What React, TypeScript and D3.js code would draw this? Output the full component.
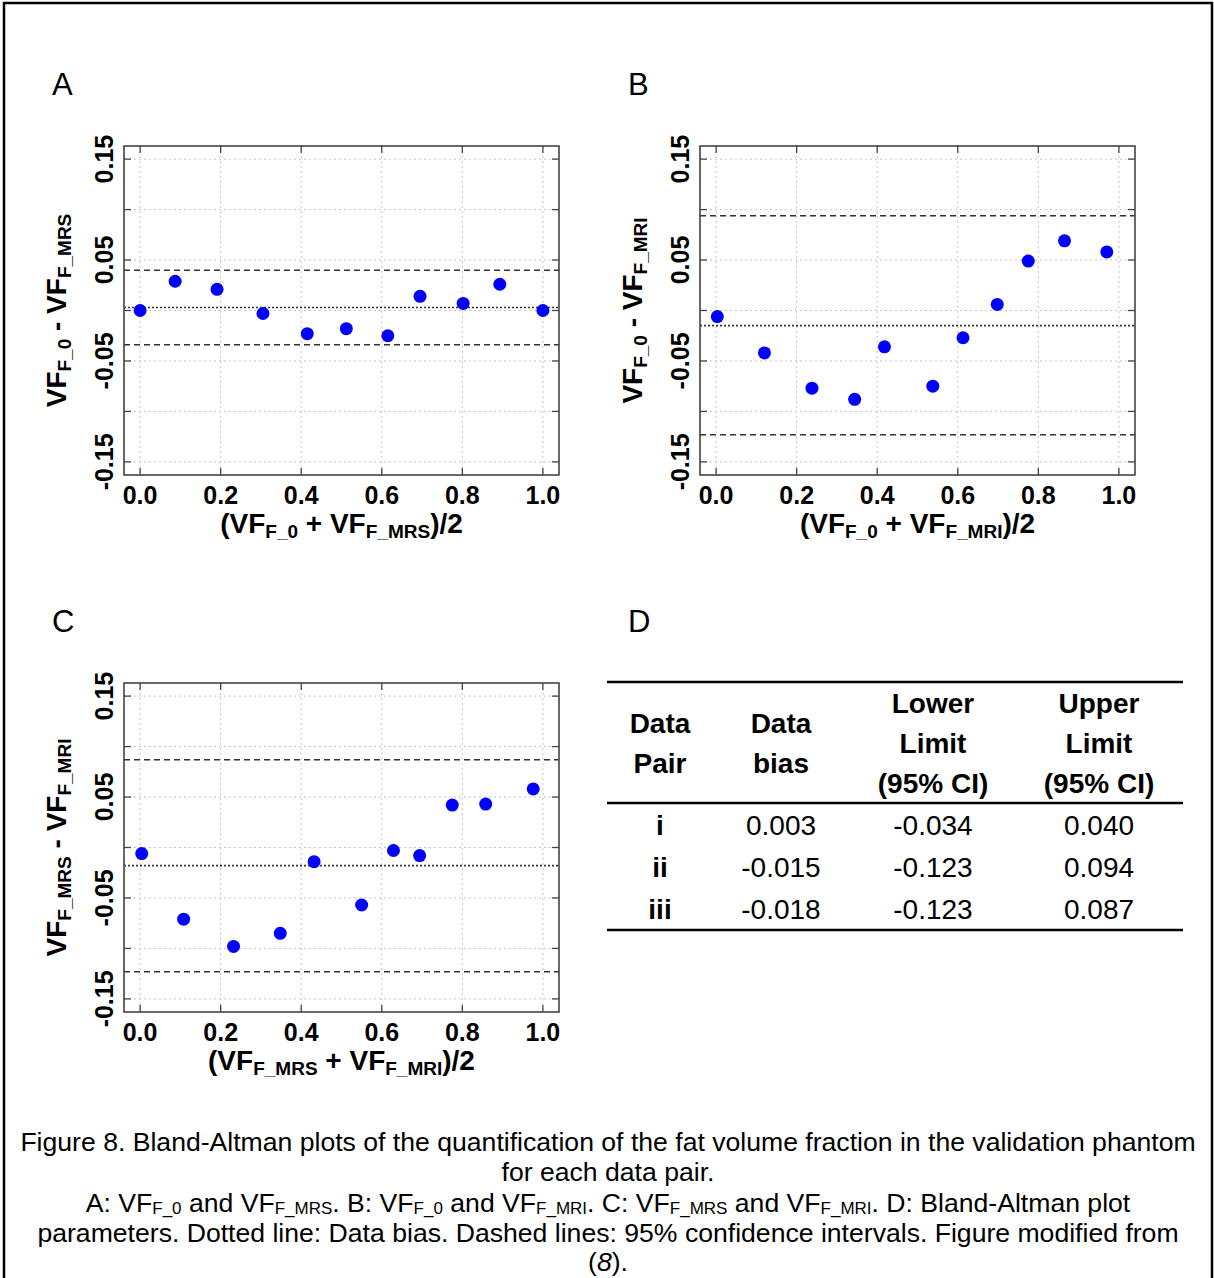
import React from "react";
import * as d3 from "d3";

// ---------- data ----------
const xA = [0.0, 0.087, 0.191, 0.305, 0.415, 0.512, 0.615, 0.695, 0.802, 0.893, 1.0];
const yA = [0.0, 0.029, 0.021, -0.003, -0.023, -0.018, -0.025, 0.014, 0.007, 0.026, 0.0];

const xB = [0.003, 0.12, 0.238, 0.344, 0.418, 0.538, 0.613, 0.698, 0.775, 0.865, 0.97];
const yB = [-0.006, -0.042, -0.077, -0.088, -0.036, -0.075, -0.027, 0.006, 0.049, 0.069, 0.058];

const xC = [0.004, 0.108, 0.232, 0.348, 0.432, 0.55, 0.629, 0.694, 0.775, 0.858, 0.976];
const yC = [-0.006, -0.071, -0.098, -0.085, -0.014, -0.057, -0.003, -0.008, 0.042, 0.043, 0.058];

const pairLabels = ["i", "ii", "iii"];
const biasValues = [0.003, -0.015, -0.018];
const lowerValues = [-0.034, -0.123, -0.123];
const upperValues = [0.04, 0.094, 0.087];

const yTickValues = [-0.15, -0.1, -0.05, 0, 0.05, 0.1, 0.15];
const yLabelValues = [-0.15, -0.05, 0.05, 0.15];
const xTickValues = [0, 0.2, 0.4, 0.6, 0.8, 1.0];

const headerLines = [
  ["Data", "Pair"],
  ["Data", "bias"],
  ["Lower", "Limit", "(95% CI)"],
  ["Upper", "Limit", "(95% CI)"],
];

// ---------- style ----------
const FONT = '"Liberation Sans", Arial, Helvetica, sans-serif';

type Part = [string, boolean];

function SubText(props: {
  x: number;
  y: number;
  parts: Part[];
  size: number;
  subSize: number;
  subDy: number;
  rotate?: boolean;
  weight?: string;
  anchor?: string;
}) {
  const { x, y, parts, size, subSize, subDy, rotate, weight, anchor } = props;
  let inSub = false;
  const spans = parts.map((p, i) => {
    const [t, sub] = p;
    let dy = 0;
    if (sub && !inSub) dy = subDy;
    if (!sub && inSub) dy = -subDy;
    inSub = sub;
    return (
      <tspan key={i} fontSize={sub ? subSize : size} dy={dy}>
        {t}
      </tspan>
    );
  });
  return (
    <text
      transform={rotate ? `translate(${x},${y}) rotate(-90)` : `translate(${x},${y})`}
      textAnchor={anchor || "middle"}
      fontFamily={FONT}
      fontWeight={weight || "bold"}
      fontSize={size}
      fill="#000"
      style={{ whiteSpace: "pre" }}
    >
      {spans}
    </text>
  );
}

type Box = { l: number; r: number; t: number; b: number };

function Plot(props: {
  box: Box;
  xs: number[];
  ys: number[];
  idx: number;
  letter: string;
  xTitle: Part[];
  yTitle: Part[];
}) {
  const { box, xs, ys, idx, letter, xTitle, yTitle } = props;
  const x = d3.scaleLinear().domain([-0.04, 1.04]).range([box.l, box.r]);
  const y = d3.scaleLinear().domain([-0.163, 0.163]).range([box.b, box.t]);
  const tl = 7;
  return (
    <g>
      <text x={box.l - 72} y={box.t - 51} fontFamily={FONT} fontSize={31} fill="#000">
        {letter}
      </text>
      {/* grid */}
      {yTickValues.map((v, i) => (
        <line key={"gy" + i} x1={box.l} x2={box.r} y1={y(v)} y2={y(v)} stroke="#c4c4c4" strokeWidth={1} strokeDasharray="2,3" />
      ))}
      {xTickValues.map((v, i) => (
        <line key={"gx" + i} x1={x(v)} x2={x(v)} y1={box.t} y2={box.b} stroke="#c4c4c4" strokeWidth={1} strokeDasharray="2,3" />
      ))}
      {/* ticks */}
      {yTickValues.map((v, i) => (
        <g key={"ty" + i}>
          <line x1={box.l} x2={box.l + tl} y1={y(v)} y2={y(v)} stroke="#444" strokeWidth={1.3} />
          <line x1={box.r} x2={box.r - tl} y1={y(v)} y2={y(v)} stroke="#444" strokeWidth={1.3} />
        </g>
      ))}
      {xTickValues.map((v, i) => (
        <g key={"tx" + i}>
          <line x1={x(v)} x2={x(v)} y1={box.b} y2={box.b - tl} stroke="#444" strokeWidth={1.3} />
          <line x1={x(v)} x2={x(v)} y1={box.t} y2={box.t + tl} stroke="#444" strokeWidth={1.3} />
        </g>
      ))}
      {/* bias & limits */}
      <line x1={box.l} x2={box.r} y1={y(upperValues[idx])} y2={y(upperValues[idx])} stroke="#333" strokeWidth={1.5} strokeDasharray="6,4" />
      <line x1={box.l} x2={box.r} y1={y(lowerValues[idx])} y2={y(lowerValues[idx])} stroke="#333" strokeWidth={1.5} strokeDasharray="6,4" />
      <line x1={box.l} x2={box.r} y1={y(biasValues[idx])} y2={y(biasValues[idx])} stroke="#333" strokeWidth={1.6} strokeDasharray="2,2" />
      {/* border */}
      <rect x={box.l} y={box.t} width={box.r - box.l} height={box.b - box.t} fill="none" stroke="#444" strokeWidth={1.6} />
      {/* points */}
      {xs.map((v, i) => (
        <circle key={"p" + i} cx={x(v)} cy={y(ys[i])} r={6.5} fill="#0000ff" />
      ))}
      {/* tick labels */}
      {yLabelValues.map((v, i) => (
        <text
          key={"yl" + i}
          transform={`translate(${box.l - 11},${y(v)}) rotate(-90)`}
          textAnchor="middle"
          fontFamily={FONT}
          fontWeight="bold"
          fontSize={25}
        >
          {v.toFixed(2)}
        </text>
      ))}
      {xTickValues.map((v, i) => (
        <text key={"xl" + i} x={x(v)} y={box.b + 29} textAnchor="middle" fontFamily={FONT} fontWeight="bold" fontSize={25}>
          {v.toFixed(1)}
        </text>
      ))}
      <SubText x={(box.l + box.r) / 2} y={box.b + 58} parts={xTitle} size={28} subSize={19} subDy={5} />
      <SubText x={box.l - 58} y={(box.t + box.b) / 2} parts={yTitle} size={28} subSize={19} subDy={5} rotate />
    </g>
  );
}

function Table() {
  const cols = [660, 781, 933, 1099];
  const x0 = 607;
  const x1 = 1183;
  const top = 682;
  const mid = 803;
  const bot = 930;
  const rowBase = [835, 877, 919];
  return (
    <g fontFamily={FONT} fontSize={28}>
      <text x={x0 + 21} y={632} fontSize={31} fill="#000">D</text>
      <line x1={x0} x2={x1} y1={top} y2={top} stroke="#000" strokeWidth={2.5} />
      <line x1={x0} x2={x1} y1={mid} y2={mid} stroke="#000" strokeWidth={2.5} />
      <line x1={x0} x2={x1} y1={bot} y2={bot} stroke="#000" strokeWidth={2.5} />
      {headerLines.map((lines, ci) => {
        const n = lines.length;
        const start = n === 3 ? 713 : 733;
        return lines.map((t, li) => (
          <text key={ci + "-" + li} x={cols[ci]} y={start + li * 40} textAnchor="middle" fontWeight="bold">
            {t}
          </text>
        ));
      })}
      {pairLabels.map((p, i) => (
        <g key={"r" + i}>
          <text x={cols[0]} y={rowBase[i]} textAnchor="middle" fontWeight="bold">{p}</text>
          <text x={cols[1]} y={rowBase[i]} textAnchor="middle">{biasValues[i].toFixed(3)}</text>
          <text x={cols[2]} y={rowBase[i]} textAnchor="middle">{lowerValues[i].toFixed(3)}</text>
          <text x={cols[3]} y={rowBase[i]} textAnchor="middle">{upperValues[i].toFixed(3)}</text>
        </g>
      ))}
    </g>
  );
}

function Caption() {
  const cx = 608;
  const fs = 26.6;
  const sub = 17;
  const line3: Part[] = [
    ["A: VF", false], ["F_0", true], [" and VF", false], ["F_MRS", true],
    [". B: VF", false], ["F_0", true], [" and VF", false], ["F_MRI", true],
    [". C: VF", false], ["F_MRS", true], [" and VF", false], ["F_MRI", true],
    [". D: Bland-Altman plot", false],
  ];
  return (
    <g fontFamily={FONT} fontSize={fs} fill="#000">
      <text x={cx} y={1151} textAnchor="middle">
        Figure 8. Bland-Altman plots of the quantification of the fat volume fraction in the validation phantom
      </text>
      <text x={cx} y={1181} textAnchor="middle">for each data pair.</text>
      <SubText x={cx} y={1212} parts={line3} size={fs} subSize={sub} subDy={2} weight="normal" />
      <text x={cx} y={1242} textAnchor="middle">
        parameters. Dotted line: Data bias. Dashed lines: 95% confidence intervals. Figure modified from
      </text>
      <text x={cx} y={1271} textAnchor="middle">
        (<tspan fontStyle="italic">8</tspan>).
      </text>
    </g>
  );
}

export default function App() {
  const boxA: Box = { l: 124, r: 559, t: 146, b: 475 };
  const boxB: Box = { l: 700, r: 1135, t: 146, b: 475 };
  const boxC: Box = { l: 124, r: 559, t: 683, b: 1012 };
  return (
    <svg
      width={1214}
      height={1278}
      style={{ position: "absolute", left: 0, top: 0, background: "#fff" }}
    >
      <rect x={0} y={0} width={1214} height={1278} fill="#fff" />
      <path d="M4,1278 L4,3 L1212,3 L1212,1278" fill="none" stroke="#000" strokeWidth={2.5} />
      <Plot
        box={boxA}
        xs={xA}
        ys={yA}
        idx={0}
        letter="A"
        xTitle={[["(VF", false], ["F_0", true], [" + VF", false], ["F_MRS", true], [")/2", false]]}
        yTitle={[["VF", false], ["F_0", true], [" - VF", false], ["F_MRS", true]]}
      />
      <Plot
        box={boxB}
        xs={xB}
        ys={yB}
        idx={1}
        letter="B"
        xTitle={[["(VF", false], ["F_0", true], [" + VF", false], ["F_MRI", true], [")/2", false]]}
        yTitle={[["VF", false], ["F_0", true], [" - VF", false], ["F_MRI", true]]}
      />
      <Plot
        box={boxC}
        xs={xC}
        ys={yC}
        idx={2}
        letter="C"
        xTitle={[["(VF", false], ["F_MRS", true], [" + VF", false], ["F_MRI", true], [")/2", false]]}
        yTitle={[["VF", false], ["F_MRS", true], [" - VF", false], ["F_MRI", true]]}
      />
      <Table />
      <Caption />
    </svg>
  );
}
